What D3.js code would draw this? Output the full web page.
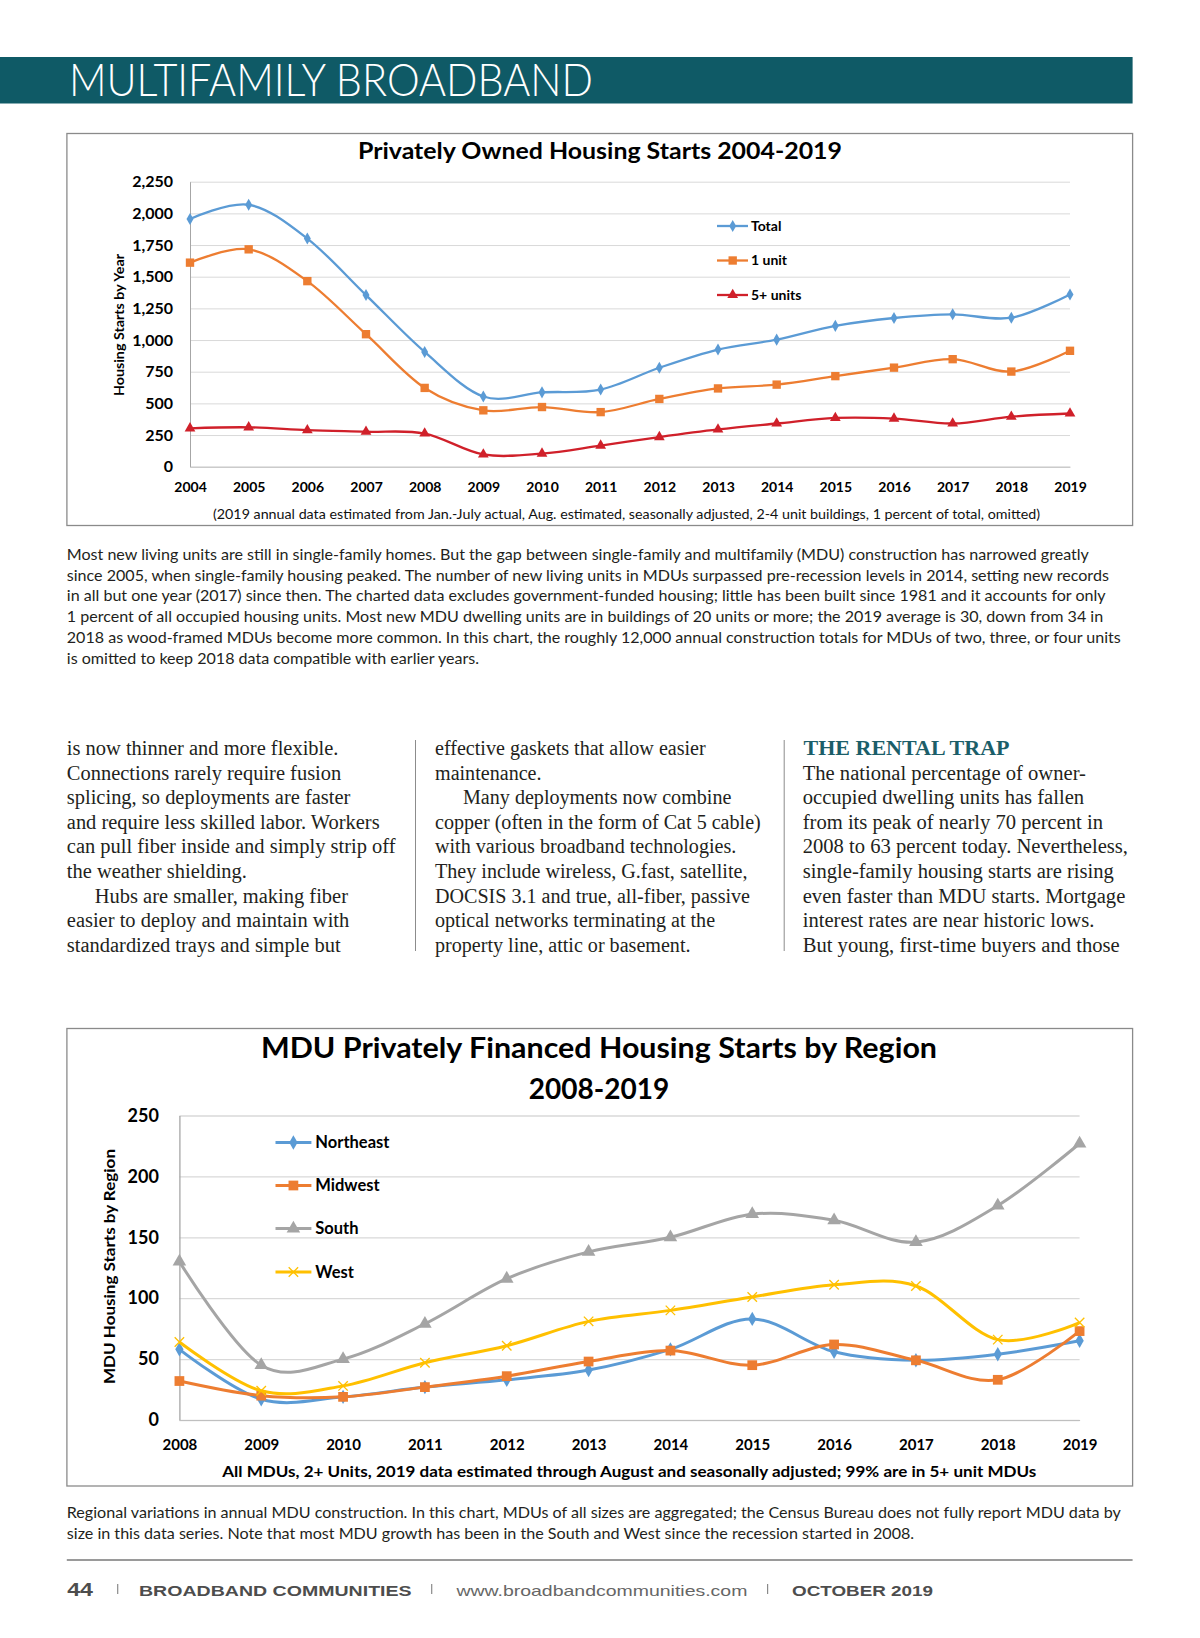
<!DOCTYPE html>
<html><head><meta charset="utf-8">
<script src="https://cdn.jsdelivr.net/npm/d3@7"></script>
<style>body{margin:0;background:#fff} svg{display:block}</style>
</head><body><div id="page"></div>
<script>
// ---------- DATA ----------
const years1 = [2004,2005,2006,2007,2008,2009,2010,2011,2012,2013,2014,2015,2016,2017,2018,2019];
const totalStarts   = [1955,2068,1801,1355,906,554,587,609,781,925,1003,1112,1174,1203,1176,1360];
const oneUnitStarts = [1611,1716,1465,1046,622,445,471,431,535,618,648,715,782,849,751,915];
const fivePlusStarts= [303,311,289,276,262,97,104,167,234,294,341,385,380,341,395,420];
const yTicks1 = [0,250,500,750,1000,1250,1500,1750,2000,2250];
const seriesNames1 = ["Total","1 unit","5+ units"];

const years2 = [2008,2009,2010,2011,2012,2013,2014,2015,2016,2017,2018,2019];
const northeast = [58,17,19,27,33,41,58,83,56,49,54,65];
const midwest   = [32,20,19,27,36,48,57,45,62,49,33,73];
const south     = [130,45,50,79,116,138,150,169,164,146,176,227];
const west      = [64,24,28,47,61,81,90,101,111,110,66,80];
const yTicks2 = [0,50,100,150,200,250];
const seriesNames2 = ["Northeast","Midwest","South","West"];

// ---------- TEXT ----------
const caption1 = [
"Most new living units are still in single-family homes. But the gap between single-family and multifamily (MDU) construction has narrowed greatly",
"since 2005, when single-family housing peaked. The number of new living units in MDUs surpassed pre-recession levels in 2014, setting new records",
"in all but one year (2017) since then. The charted data excludes government-funded housing; little has been built since 1981 and it accounts for only",
"1 percent of all occupied housing units. Most new MDU dwelling units are in buildings of 20 units or more; the 2019 average is 30, down from 34 in",
"2018 as wood-framed MDUs become more common. In this chart, the roughly 12,000 annual construction totals for MDUs of two, three, or four units",
"is omitted to keep 2018 data compatible with earlier years."];
const caption2 = [
"Regional variations in annual MDU construction. In this chart, MDUs of all sizes are aggregated; the Census Bureau does not fully report MDU data by",
"size in this data series. Note that most MDU growth has been in the South and West since the recession started in 2008."];
const col1 = [
["is now thinner and more flexible.",0],
["Connections rarely require fusion",0],
["splicing, so deployments are faster",0],
["and require less skilled labor. Workers",0],
["can pull fiber inside and simply strip off",0],
["the weather shielding.",0],
["Hubs are smaller, making fiber",1],
["easier to deploy and maintain with",0],
["standardized trays and simple but",0]];
const col2 = [
["effective gaskets that allow easier",0],
["maintenance.",0],
["Many deployments now combine",1],
["copper (often in the form of Cat 5 cable)",0],
["with various broadband technologies.",0],
["They include wireless, G.fast, satellite,",0],
["DOCSIS 3.1 and true, all-fiber, passive",0],
["optical networks terminating at the",0],
["property line, attic or basement.",0]];
const col3 = [
["The national percentage of owner-",0],
["occupied dwelling units has fallen",0],
["from its peak of nearly 70 percent in",0],
["2008 to 63 percent today. Nevertheless,",0],
["single-family housing starts are rising",0],
["even faster than MDU starts. Mortgage",0],
["interest rates are near historic lows.",0],
["But young, first-time buyers and those",0]];

// ---------- HELPERS ----------
const W = 1200, H = 1638;
const svg = d3.select('#page').append('svg').attr('width', W).attr('height', H).attr('viewBox', `0 0 ${W} ${H}`);
svg.append('rect').attr('width', W).attr('height', H).attr('fill', '#fff');
const CHART_FONT = "Lato, Carlito, 'Open Sans', sans-serif";
const SERIF = "'Liberation Serif', 'DejaVu Serif', serif";
const SANS = "Lato, 'Open Sans', sans-serif";

function fit(sel, w) { sel.attr('textLength', w).attr('lengthAdjust', 'spacingAndGlyphs'); }
function condenseBlock(nodes, refIndex, refWidth) {
  const k = refWidth / nodes[refIndex].getComputedTextLength();
  nodes.forEach(n => {
    const nw = n.getComputedTextLength();
    n.setAttribute('textLength', nw * k);
    n.setAttribute('lengthAdjust', 'spacingAndGlyphs');
  });
}

// ---------- HEADER ----------
svg.append('rect').attr('x', 0).attr('y', 57).attr('width', 1132.6).attr('height', 46.5).attr('fill', '#0f5a66');
const hdr = svg.append('text').attr('x', 69).attr('y', 95.7).attr('fill', '#fff')
  .attr('font-family', "Lato, Roboto, sans-serif").attr('font-weight', 300).attr('font-size', 45)
  .text('MULTIFAMILY BROADBAND');
fit(hdr, 524);

// ---------- CHART 1 ----------
const c1 = {left: 190, right: 1070, top: 181.7, bottom: 466.7};
svg.append('rect').attr('x', 66.9).attr('y', 133.5).attr('width', 1132.6 - 66.9).attr('height', 525.5 - 133.5)
  .attr('fill', '#fff').attr('stroke', '#8a8a8a').attr('stroke-width', 1.3);
const x1 = d3.scalePoint().domain(years1).range([c1.left, c1.right]);
const y1 = d3.scaleLinear().domain([0, 2250]).range([c1.bottom, c1.top]);
const g1 = svg.append('g');

g1.append('g').attr('transform', `translate(${c1.left},0)`)
  .call(d3.axisLeft(y1).tickValues(yTicks1).tickSize(-(c1.right - c1.left)).tickFormat(''))
  .call(g => g.select('.domain').remove())
  .call(g => g.selectAll('.tick line').attr('stroke', '#d9d9d9').attr('stroke-width', 1));

g1.append('g').attr('transform', `translate(${c1.left},0)`)
  .call(d3.axisLeft(y1).tickValues(yTicks1).tickFormat(d3.format(',')).tickSize(0).tickPadding(17))
  .call(g => g.select('.domain').attr('stroke', '#a6a6a6'))
  .call(g => g.selectAll('text').attr('font-family', CHART_FONT).attr('font-weight', 700).attr('font-size', 16).attr('fill', '#000'));

g1.append('g').attr('transform', `translate(0,${c1.bottom})`)
  .call(d3.axisBottom(x1).tickValues(years1).tickFormat(d => d).tickSize(0))
  .call(g => g.select('.domain').attr('stroke', '#bfbfbf'))
  .call(g => g.selectAll('text').attr('y', 25).attr('dy', null).attr('font-family', CHART_FONT).attr('font-weight', 700).attr('font-size', 14).attr('fill', '#000'));

const at1 = g1.append('text').attr('transform', 'translate(119.5,325) rotate(-90)').attr('text-anchor', 'middle').attr('dy', '0.35em')
  .attr('font-family', CHART_FONT).attr('font-weight', 700).attr('font-size', 13.5).attr('fill', '#000')
  .text('Housing Starts by Year');
fit(at1, 142);

const t1 = g1.append('text').attr('x', 600).attr('y', 158.5).attr('text-anchor', 'middle')
  .attr('font-family', CHART_FONT).attr('font-weight', 700).attr('font-size', 22).attr('fill', '#000')
  .text('Privately Owned Housing Starts 2004-2019');
fit(t1, 484);

const st1 = g1.append('text').attr('x', 626.5).attr('y', 519).attr('text-anchor', 'middle')
  .attr('font-family', CHART_FONT).attr('font-weight', 400).attr('font-size', 13.5).attr('fill', '#111')
  .text('(2019 annual data estimated from Jan.-July actual, Aug. estimated, seasonally adjusted, 2-4 unit buildings, 1 percent of total, omitted)');
fit(st1, 827);

const s1 = [
  {name: seriesNames1[0], vals: totalStarts, color: '#5b9bd5', sym: d3.symbolDiamond, size: 42},
  {name: seriesNames1[1], vals: oneUnitStarts, color: '#ed7d31', sym: d3.symbolSquare, size: 70},
  {name: seriesNames1[2], vals: fivePlusStarts, color: '#d0202a', sym: d3.symbolTriangle, size: 50}
];
const line1 = d3.line().x((d, i) => x1(years1[i])).y(d => y1(d)).curve(d3.curveCardinal.tension(0));
s1.forEach(s => {
  g1.append('path').attr('d', line1(s.vals)).attr('fill', 'none').attr('stroke', s.color).attr('stroke-width', 2.3);
  g1.selectAll(null).data(s.vals).enter().append('path')
    .attr('transform', (d, i) => `translate(${x1(years1[i])},${y1(d)})`)
    .attr('d', d3.symbol().type(s.sym).size(s.size)).attr('fill', s.color);
});
const legRows1 = [226, 260.5, 295];
s1.forEach((s, i) => {
  const ly = legRows1[i];
  g1.append('line').attr('x1', 717).attr('x2', 748).attr('y1', ly).attr('y2', ly).attr('stroke', s.color).attr('stroke-width', 2.3);
  g1.append('path').attr('transform', `translate(732.7,${ly})`).attr('d', d3.symbol().type(s.sym).size(s.size)).attr('fill', s.color);
  g1.append('text').attr('x', 751).attr('y', ly).attr('dy', '0.35em')
    .attr('font-family', CHART_FONT).attr('font-weight', 700).attr('font-size', 14).attr('fill', '#000').text(s.name);
});

// ---------- CAPTION 1 ----------
const cap1 = svg.append('g').selectAll('text').data(caption1).enter().append('text')
  .attr('x', 66.8).attr('y', (d, i) => 560 + i * 20.7)
  .attr('font-family', SANS).attr('font-size', 15.2).attr('fill', '#231f20').text(d => d);
condenseBlock(cap1.nodes(), 4, 1054);

// ---------- BODY COLUMNS ----------
function drawCol(lines, x0, startRow, refIdx, refRight) {
  const t = svg.append('g').selectAll('text').data(lines).enter().append('text')
    .attr('x', d => x0 + d[1] * 28).attr('y', (d, i) => 755 + (i + startRow) * 24.6)
    .attr('font-family', SERIF).attr('font-size', 20).attr('fill', '#231f20').text(d => d[0]);
  const nodes = t.nodes();
  const ref = lines[refIdx];
  condenseBlock(nodes, refIdx, refRight - (x0 + ref[1] * 28));
}
drawCol(col1, 66.8, 0, 4, 395.5);
drawCol(col2, 435, 0, 6, 750);
drawCol(col3, 802.7, 1, 3, 1128);
const rental = svg.append('text').attr('x', 803.5).attr('y', 755).attr('font-family', SERIF).attr('font-weight', 700)
  .attr('font-size', 20).attr('fill', '#1b5e69').text('THE RENTAL TRAP');
fit(rental, 206);
[415.5, 784.2].forEach(x => svg.append('line').attr('x1', x).attr('x2', x).attr('y1', 740).attr('y2', 951)
  .attr('stroke', '#8c8c8c').attr('stroke-width', 1));

// ---------- CHART 2 ----------
const c2 = {left: 179.4, right: 1079.6, top: 1115.5, bottom: 1420};
svg.append('rect').attr('x', 66.9).attr('y', 1028.5).attr('width', 1132.6 - 66.9).attr('height', 1486 - 1028.5)
  .attr('fill', '#fff').attr('stroke', '#8a8a8a').attr('stroke-width', 1.3);
const x2 = d3.scalePoint().domain(years2).range([c2.left, c2.right]);
const y2 = d3.scaleLinear().domain([0, 250]).range([c2.bottom, c2.top]);
const g2 = svg.append('g');

g2.append('g').attr('transform', `translate(${c2.left},0)`)
  .call(d3.axisLeft(y2).tickValues(yTicks2).tickSize(-(c2.right - c2.left)).tickFormat(''))
  .call(g => g.select('.domain').remove())
  .call(g => g.selectAll('.tick line').attr('stroke', '#d9d9d9').attr('stroke-width', 1.3));

g2.append('g').attr('transform', `translate(${c2.left},0)`)
  .call(d3.axisLeft(y2).tickValues(yTicks2).tickSize(0).tickPadding(20.5))
  .call(g => g.select('.domain').attr('stroke', '#a6a6a6').attr('stroke-width', 1.3))
  .call(g => g.selectAll('text').attr('font-family', CHART_FONT).attr('font-weight', 700).attr('font-size', 18).attr('fill', '#000'));

g2.append('g').attr('transform', `translate(0,${c2.bottom})`)
  .call(d3.axisBottom(x2).tickValues(years2).tickFormat(d => d).tickSize(0))
  .call(g => g.select('.domain').attr('stroke', '#bfbfbf'))
  .call(g => g.selectAll('text').attr('y', 29.5).attr('dy', null).attr('font-family', CHART_FONT).attr('font-weight', 700).attr('font-size', 15).attr('fill', '#000'));

const at2 = g2.append('text').attr('transform', 'translate(109.5,1266.5) rotate(-90)').attr('text-anchor', 'middle').attr('dy', '0.35em')
  .attr('font-family', CHART_FONT).attr('font-weight', 700).attr('font-size', 15.5).attr('fill', '#000')
  .text('MDU Housing Starts by Region');
fit(at2, 235);

const t2a = g2.append('text').attr('x', 599).attr('y', 1057.5).attr('text-anchor', 'middle')
  .attr('font-family', CHART_FONT).attr('font-weight', 700).attr('font-size', 28).attr('fill', '#000')
  .text('MDU Privately Financed Housing Starts by Region');
fit(t2a, 676);
g2.append('text').attr('x', 599).attr('y', 1098.5).attr('text-anchor', 'middle')
  .attr('font-family', CHART_FONT).attr('font-weight', 700).attr('font-size', 28).attr('fill', '#000')
  .text('2008-2019');

const n2 = g2.append('text').attr('x', 629.3).attr('y', 1477).attr('text-anchor', 'middle')
  .attr('font-family', CHART_FONT).attr('font-weight', 700).attr('font-size', 15).attr('fill', '#000')
  .text('All MDUs, 2+ Units, 2019 data estimated through August and seasonally adjusted; 99% are in 5+ unit MDUs');
fit(n2, 814);

const timesSym = d3.symbolTimes || {draw(ctx, size) { const r = Math.sqrt(size) / 2; ctx.moveTo(-r, -r); ctx.lineTo(r, r); ctx.moveTo(r, -r); ctx.lineTo(-r, r); }};
const s2 = [
  {name: seriesNames2[0], vals: northeast, color: '#5b9bd5', sym: d3.symbolDiamond, size: 60, stroke: false},
  {name: seriesNames2[1], vals: midwest, color: '#ed7d31', sym: d3.symbolSquare, size: 95, stroke: false},
  {name: seriesNames2[2], vals: south, color: '#a5a5a5', sym: d3.symbolTriangle, size: 80, stroke: false},
  {name: seriesNames2[3], vals: west, color: '#ffc000', sym: timesSym, size: 60, stroke: true}
];
const line2 = d3.line().x((d, i) => x2(years2[i])).y(d => y2(d)).curve(d3.curveCardinal.tension(0));
function marker(g, s, x, y) {
  const p = g.append('path').attr('transform', `translate(${x},${y})`).attr('d', d3.symbol().type(s.sym).size(s.size));
  if (s.stroke) p.attr('fill', 'none').attr('stroke', s.color).attr('stroke-width', 1.3);
  else p.attr('fill', s.color);
}
s2.forEach(s => {
  g2.append('path').attr('d', line2(s.vals)).attr('fill', 'none').attr('stroke', s.color).attr('stroke-width', 3);
  s.vals.forEach((v, i) => marker(g2, s, x2(years2[i]), y2(v)));
});
const legRows2 = [1142.5, 1185.5, 1228.5, 1272];
s2.forEach((s, i) => {
  const ly = legRows2[i];
  g2.append('line').attr('x1', 275.5).attr('x2', 311.4).attr('y1', ly).attr('y2', ly).attr('stroke', s.color).attr('stroke-width', 3);
  marker(g2, s, 293.4, ly);
  g2.append('text').attr('x', 315.3).attr('y', ly).attr('dy', '0.35em')
    .attr('font-family', CHART_FONT).attr('font-weight', 700).attr('font-size', 16.5).attr('fill', '#000').text(s.name);
});

// ---------- CAPTION 2 ----------
const cap2 = svg.append('g').selectAll('text').data(caption2).enter().append('text')
  .attr('x', 66.8).attr('y', (d, i) => 1517.5 + i * 21.5)
  .attr('font-family', SANS).attr('font-size', 15.2).attr('fill', '#231f20').text(d => d);
condenseBlock(cap2.nodes(), 0, 1054);

// ---------- FOOTER ----------
svg.append('line').attr('x1', 66.8).attr('x2', 1132.6).attr('y1', 1560).attr('y2', 1560).attr('stroke', '#9a9a9a').attr('stroke-width', 2);
const FS = "'Liberation Sans', Arial, sans-serif";
const f44 = svg.append('text').attr('x', 67.2).attr('y', 1596).attr('font-family', FS).attr('font-weight', 700).attr('font-size', 18).attr('fill', '#4d4d4d').text('44');
fit(f44, 25.8);
const fb = svg.append('text').attr('x', 139).attr('y', 1596).attr('font-family', FS).attr('font-weight', 700).attr('font-size', 15.5).attr('fill', '#4d4d4d').text('BROADBAND COMMUNITIES');
fit(fb, 272.6);
const fw = svg.append('text').attr('x', 456.4).attr('y', 1596).attr('font-family', FS).attr('font-weight', 400).attr('font-size', 15).attr('fill', '#666').text('www.broadbandcommunities.com');
fit(fw, 291);
const fo = svg.append('text').attr('x', 792).attr('y', 1596).attr('font-family', FS).attr('font-weight', 700).attr('font-size', 15.5).attr('fill', '#4d4d4d').text('OCTOBER 2019');
fit(fo, 141);
[117.7, 431.7, 767.6].forEach(x => svg.append('line').attr('x1', x).attr('x2', x).attr('y1', 1584).attr('y2', 1594)
  .attr('stroke', '#8a8a8a').attr('stroke-width', 1.2));
</script></body></html>
